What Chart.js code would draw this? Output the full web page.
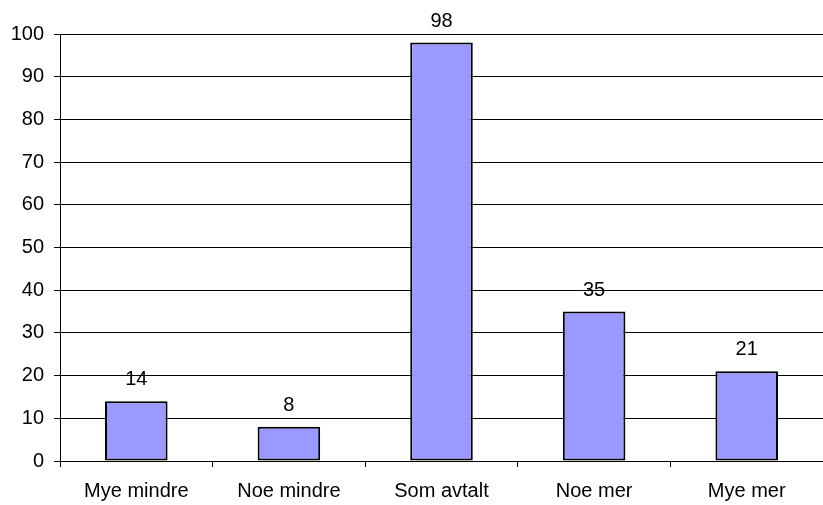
<!DOCTYPE html>
<html>
<head>
<meta charset="utf-8">
<script src="https://cdn.jsdelivr.net/npm/chart.js@4/dist/chart.umd.min.js"></script>
<style>
	html, body { margin: 0; padding: 0; background: #fff; }
	#wrap { width: 823px; height: 505px; }
</style>
</head>
<body>
<div id="wrap"><canvas id="chart" width="823" height="505"></canvas></div>
<script>
// **DATOS**
const categories = ['Mye mindre', 'Noe mindre', 'Som avtalt', 'Noe mer', 'Mye mer'];
const values = [14, 8, 98, 35, 21];
const yTicks = [0, 10, 20, 30, 40, 50, 60, 70, 80, 90, 100];

const FONT = { family: '"Liberation Sans", Arial, sans-serif', size: 20 };

/**
 * Dibuja el valor encima de cada barra.
 */
const valueLabels = {
	id: 'valueLabels',
	afterDatasetsDraw(chart) {
		const ctx = chart.ctx;
		const meta = chart.getDatasetMeta(0);
		ctx.save();
		ctx.font = FONT.size + 'px ' + FONT.family;
		ctx.fillStyle = '#000';
		ctx.textAlign = 'center';
		ctx.textBaseline = 'alphabetic';
		meta.data.forEach((bar, i) => {
			ctx.fillText(String(values[i]), bar.x, bar.y - 16);
		});
		ctx.restore();
	}
};

function init() {
	new Chart(document.getElementById('chart'), {
		type: 'bar',
		data: {
			labels: categories,
			datasets: [{
				data: values,
				backgroundColor: '#9999ff',
				borderColor: '#000',
				borderWidth: 2,
				borderSkipped: false,
				categoryPercentage: 1,
				barPercentage: 0.41,
			}],
		},
		options: {
			responsive: false,
			animation: false,
			devicePixelRatio: 1,
			layout: { padding: { top: 34, right: 0, left: 0, bottom: 0 } },
			plugins: { legend: { display: false }, tooltip: { enabled: false } },
			scales: {
				x: {
					offset: true,
					grid: { drawOnChartArea: false, drawTicks: true, tickLength: 6, color: '#000', offset: true },
					border: { color: '#000', width: 1 },
					ticks: { color: '#000', font: FONT, padding: 12, maxRotation: 0 },
					afterFit(scale) { scale.height = 44; },
				},
				y: {
					min: 0,
					max: 100,
					afterBuildTicks(scale) { scale.ticks = yTicks.map(v => ({ value: v })); },
					grid: { color: '#000', lineWidth: 1, tickLength: 6 },
					border: { color: '#000', width: 1 },
					ticks: { color: '#000', font: FONT, padding: 10 },
					afterFit(scale) { scale.width = 60; },
				},
			},
		},
		plugins: [valueLabels],
	});
}

document.addEventListener('DOMContentLoaded', init);
</script>
</body>
</html>
